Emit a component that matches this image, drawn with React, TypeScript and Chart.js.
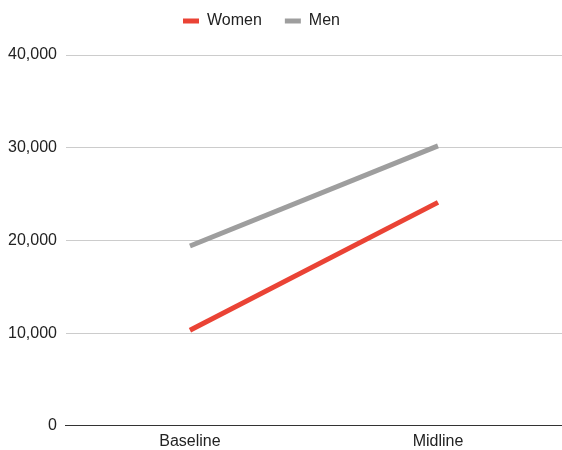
import React, { useEffect, useRef } from "react";
import { Chart, registerables } from "chart.js";

Chart.register(...registerables);

const categories = ["Baseline", "Midline"];
const women = [10300, 24100];
const men = [19400, 30200];
const yTicks = [0, 10000, 20000, 30000, 40000];

const FONT = "Liberation Sans, Arial, Helvetica, sans-serif";

const legendTweak = {
  id: "legendTweak",
  beforeInit(chart: any) {
    const lg = chart.legend;
    if (!lg) return;
    const orig = lg.fit;
    lg.fit = function () {
      orig.call(this);
      this.height = 55;
    };
  },
  afterLayout(chart: any) {
    const lg = chart.legend;
    if (!lg) return;
    const dx = -19;
    const dy = -10;
    lg.left += dx;
    lg.right += dx;
    lg.top += dy;
    lg.bottom += dy;
    if (lg.legendHitBoxes) {
      lg.legendHitBoxes.forEach((h: any) => {
        h.left += dx;
        h.top += dy;
      });
    }
  },
};

export default function App() {
  const ref = useRef<HTMLCanvasElement | null>(null);
  useEffect(() => {
    if (!ref.current) return;
    const chart = new Chart(ref.current, {
      type: "line",
      data: {
        labels: categories,
        datasets: [
          {
            label: "Women",
            data: women,
            borderColor: "#EA4335",
            backgroundColor: "#EA4335",
            borderWidth: 5,
            pointRadius: 0,
            borderCapStyle: "butt",
          },
          {
            label: "Men",
            data: men,
            borderColor: "#9E9E9E",
            backgroundColor: "#9E9E9E",
            borderWidth: 5,
            pointRadius: 0,
            borderCapStyle: "butt",
          },
        ],
      },
      plugins: [legendTweak],
      options: {
        animation: false,
        responsive: false,
        maintainAspectRatio: false,
        layout: { padding: { left: -1, right: 0, top: 0, bottom: -7 } },
        plugins: {
          legend: {
            display: true,
            position: "top",
            labels: {
              boxWidth: 16,
              boxHeight: 5,
              padding: 23,
              color: "#222",
              font: { family: FONT, size: 16 },
              generateLabels: (chart: any) => {
                const items = Chart.defaults.plugins.legend.labels.generateLabels(chart);
                return items.map((it: any) => ({ ...it, lineWidth: 0 }));
              },
            },
          },
          tooltip: { enabled: false },
        },
        scales: {
          x: {
            offset: true,
            grid: { display: false, drawTicks: false },
            border: { display: true, color: "#333", width: 1 },
            ticks: {
              padding: 6,
              color: "#222",
              font: { family: FONT, size: 16 },
            },
          },
          y: {
            min: 0,
            max: 40000,
            afterBuildTicks: (axis: any) => {
              axis.ticks = yTicks.map((v) => ({ value: v }));
            },
            grid: { color: "#CCCCCC", drawTicks: false, lineWidth: 1 },
            border: { display: false },
            ticks: {
              padding: 9,
              color: "#222",
              font: { family: FONT, size: 16 },
              callback: (v: any) => Number(v).toLocaleString("en-US"),
            },
          },
        },
      },
    });
    return () => chart.destroy();
  }, []);
  return (
    <canvas
      ref={ref}
      width={562}
      height={450}
      style={{ position: "absolute", left: 0, top: 0, width: 562, height: 450 }}
    />
  );
}
